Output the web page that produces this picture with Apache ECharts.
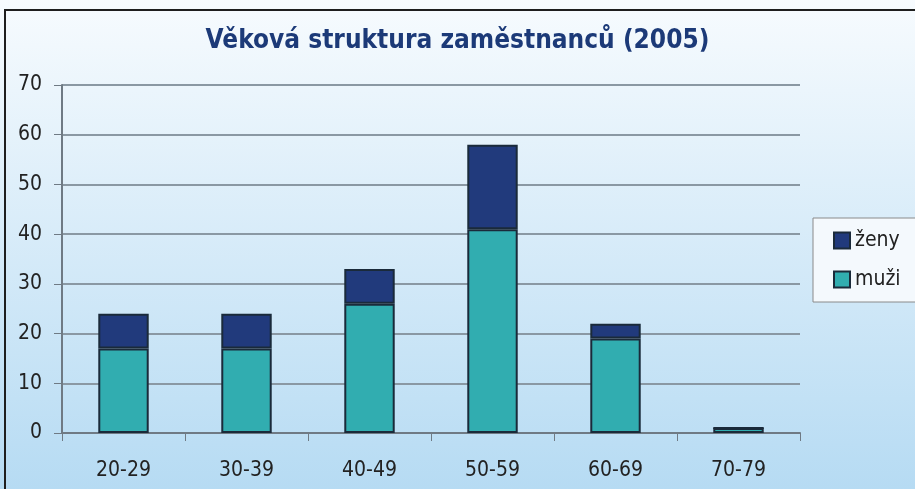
<!DOCTYPE html>
<html><head><meta charset="utf-8">
<script src="https://cdn.jsdelivr.net/npm/echarts@6/dist/echarts.min.js"></script>
<style>html,body{margin:0;padding:0;background:#fff}#c{width:915px;height:489px}</style>
</head><body><div id="c"></div>
<script>
const categories = ['20-29','30-39','40-49','50-59','60-69','70-79'];
const muzi = [17, 17, 26, 41, 19, 1];
const zeny = [7, 7, 7, 17, 3, 0];
const yTicks = [0,10,20,30,40,50,60,70];
const FONT = "'Liberation Sans Narrow','DejaVu Sans Condensed',sans-serif";

const chart = echarts.init(document.getElementById('c'));
chart.setOption({
  animation: false,
  backgroundColor: {type:'linear',x:0,y:0,x2:0,y2:1,colorStops:[{offset:0,color:'#f7fbfe'},{offset:1,color:'#b6dbf3'}]},
  graphic: [
    {type:'polyline', shape:{points:[[5,495],[5,10],[920,10]]}, style:{stroke:'#1e1e1e', lineWidth:2, fill:null}, z:100}
  ],
  title: {
    text: 'Věková struktura zaměstnanců (2005)',
    left: 'center', top: 23,
    textStyle: {fontFamily: FONT, fontSize: 26, fontWeight: 'bold', color: '#1c3a78'}
  },
  legend: {
    data: ['ženy','muži'],
    orient: 'vertical',
    left: 813, top: 218,
    width: 99,
    padding: [12, 30, 12, 20],
    itemGap: 18,
    itemWidth: 16, itemHeight: 16,
    backgroundColor: '#f4f9fd',
    borderColor: '#8a8a8a', borderWidth: 1,
    textStyle: {fontFamily: FONT, fontSize: 21, color: '#222'},
    icon: 'rect'
  },
  grid: {left: 62, right: 115, top: 85, bottom: 56},
  xAxis: {
    type: 'category', data: categories,
    axisLine: {lineStyle: {color: '#6f7a84', width: 2}},
    axisTick: {show: true, length: 8, lineStyle: {color: '#6f7a84', width: 1}},
    axisLabel: {fontFamily: FONT, fontSize: 21, color: '#222', margin: 27}
  },
  yAxis: {
    type: 'value', min: 0, max: 70, interval: 10,
    axisLine: {show: true, lineStyle: {color: '#6f7a84', width: 2}},
    axisTick: {show: true, length: 8, lineStyle: {color: '#6f7a84', width: 1}},
    splitLine: {lineStyle: {color: '#8a98a3', width: 2}},
    axisLabel: {fontFamily: FONT, fontSize: 21, color: '#222', margin: 20,
      formatter: v => yTicks.includes(v) ? String(v) : ''}
  },
  series: [
    {name: 'muži', type: 'bar', stack: 'a', data: muzi, barWidth: '41%',
     itemStyle: {color: '#31adb0', borderColor: '#1a2a3a', borderWidth: 2}},
    {name: 'ženy', type: 'bar', stack: 'a', data: zeny, barWidth: '41%',
     itemStyle: {color: '#213a7c', borderColor: '#1a2a3a', borderWidth: 2}}
  ]
});
</script></body></html>
